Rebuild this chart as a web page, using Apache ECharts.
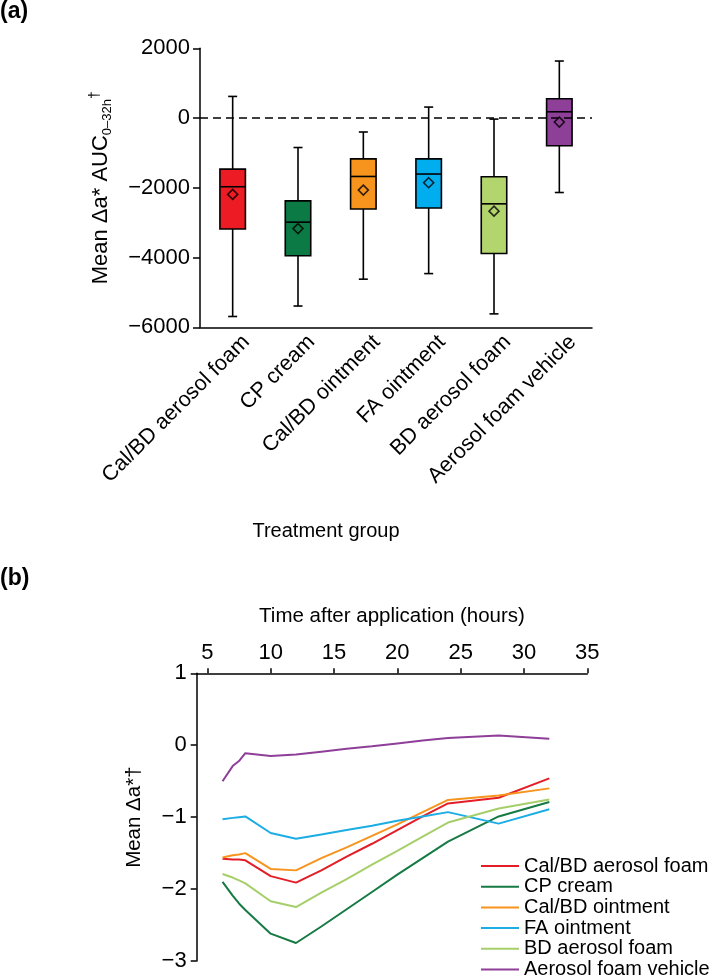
<!DOCTYPE html>
<html><head><meta charset="utf-8">
<script src="https://cdn.jsdelivr.net/npm/echarts@6/dist/echarts.min.js"></script>
<style>html,body{margin:0;padding:0;background:#fff}#c{width:709px;height:980px}</style>
</head><body><div id="c"></div>
<script>
// ---------- Panel (a): box plots ----------
const groups = ['Cal/BD aerosol foam','CP cream','Cal/BD ointment','FA ointment','BD aerosol foam','Aerosol foam vehicle'];
const boxColors = ['#ed1c24','#0b7a45','#f7941d','#00aeef','#b3d56e','#8e3f97'];
const whiskerLow  = [-5690,-5390,-4620,-4460,-5615,-2135];
const q1          = [-3180,-3950,-2610,-2580,-3885,-795];
const median      = [-1970,-2985,-1675,-1605,-2460,180];
const q3          = [-1465,-2375,-1170,-1170,-1685,555];
const whiskerHigh = [620,-845,-400,315,-30,1635];
const means       = [-2190,-3170,-2065,-1855,-2670,-115];

// ---------- Panel (b): time course ----------
const times = [6.2,7,7.5,8,10,12,14,16,18,20,22,24,28,32];
const calBdFoam   = [-1.58,-1.59,-1.59,-1.60,-1.82,-1.91,-1.74,-1.55,-1.37,-1.18,-0.99,-0.81,-0.73,-0.46];
const cpCream     = [-1.90,-2.09,-2.20,-2.29,-2.62,-2.75,-2.52,-2.28,-2.04,-1.80,-1.57,-1.34,-0.99,-0.79];
const calBdOint   = [-1.56,-1.53,-1.52,-1.50,-1.72,-1.74,-1.57,-1.42,-1.26,-1.10,-0.93,-0.76,-0.70,-0.60];
const faOint      = [-1.03,-1.01,-1.00,-0.99,-1.22,-1.30,-1.24,-1.18,-1.12,-1.05,-0.99,-0.93,-1.09,-0.89];
const bdFoam      = [-1.79,-1.84,-1.88,-1.92,-2.17,-2.25,-2.05,-1.86,-1.66,-1.47,-1.27,-1.075,-0.88,-0.755];
const foamVehicle = [-0.50,-0.29,-0.22,-0.11,-0.15,-0.13,-0.09,-0.05,-0.015,0.025,0.065,0.10,0.135,0.09];
const lineColors = ['#e31e26','#157a43','#f7941d','#1cade4','#a6cf6a','#8f3f98'];
const timeTicks = [5,10,15,20,25,30,35];

const FONT = 'Liberation Sans, Arial, Helvetica, sans-serif';
const minus = v => String(v).replace('-', '\u2212');

const chart = echarts.init(document.getElementById('c'), null, {renderer:'canvas'});

const boxData = groups.map((g,i)=>[i, whiskerLow[i], q1[i], median[i], q3[i], whiskerHigh[i]]);
const lineSets = [calBdFoam, cpCream, calBdOint, faOint, bdFoam, foamVehicle];

const option = {
  backgroundColor:'#fff',
  animation:false,
  textStyle:{fontFamily:FONT, color:'#000'},
  title:[
    {text:'(a)', left:0, top:0, padding:0, textStyle:{fontFamily:FONT, fontSize:23, fontWeight:'bold', color:'#000'}},
    {text:'(b)', left:0, top:567, padding:0, textStyle:{fontFamily:FONT, fontSize:23, fontWeight:'bold', color:'#000'}},
    {text:'Treatment group', left:326, textAlign:'center', top:521, padding:0, textStyle:{fontFamily:FONT, fontSize:20, fontWeight:'normal', color:'#000'}}
  ],
  grid:[
    {left:200, top:48.3, width:392, height:279},
    {left:196.7, top:673.3, width:390.6, height:287.7}
  ],
  xAxis:[
    {gridIndex:0, type:'category', data:groups, boundaryGap:true,
     axisLine:{onZero:false, lineStyle:{color:'#000', width:1.5}}, axisTick:{show:false},
     axisLabel:{rotate:45, interval:0, fontSize:21.5, color:'#000', fontFamily:FONT, margin:-2, verticalAlign:'top', padding:[8,0,0,0]},
     splitLine:{show:false}},
    {gridIndex:1, type:'value', position:'top', min:4.16, max:35,
     name:'Time after application (hours)', nameLocation:'middle', nameGap:46,
     nameTextStyle:{fontSize:20.5, color:'#000', fontFamily:FONT},
     axisLine:{onZero:false, lineStyle:{color:'#000', width:1.5}},
     axisTick:{show:true, length:5, lineStyle:{color:'#000', width:1.5}, customValues:timeTicks},
     axisLabel:{fontSize:22, color:'#000', fontFamily:FONT, margin:9, customValues:timeTicks},
     splitLine:{show:false}}
  ],
  yAxis:[
    {gridIndex:0, type:'value', min:-6000, max:2000, interval:2000,
     name:'Mean \u0394a* AUC{sub|0\u201332h}{sup|\u2020}', nameLocation:'middle', nameRotate:90, nameGap:84,
     nameTextStyle:{fontSize:22, color:'#000', fontFamily:FONT, lineHeight:30,
       rich:{sub:{fontSize:13, fontFamily:FONT, color:'#000', verticalAlign:'bottom', lineHeight:30, padding:[0,0,2,0]},
             sup:{fontSize:14, fontFamily:FONT, color:'#000', verticalAlign:'top', lineHeight:30, padding:[2,0,0,0]}}},
     axisLine:{show:true, onZero:false, lineStyle:{color:'#000', width:1.5}},
     axisTick:{show:true, length:7, lineStyle:{color:'#000', width:1.5}},
     axisLabel:{fontSize:22, color:'#000', fontFamily:FONT, margin:10, formatter:minus},
     splitLine:{show:false}},
    {gridIndex:1, type:'value', min:-3, max:1, interval:1,
     name:'Mean \u0394a*\u2020', nameLocation:'middle', nameRotate:90, nameGap:52,
     nameTextStyle:{fontSize:20.5, color:'#000', fontFamily:FONT},
     axisLine:{show:true, onZero:false, lineStyle:{color:'#000', width:1.5}},
     axisTick:{show:true, length:6, lineStyle:{color:'#000', width:1.5}},
     axisLabel:{fontSize:22, color:'#000', fontFamily:FONT, margin:10, formatter:minus},
     splitLine:{show:false}}
  ],
  legend:{
    data:groups, orient:'vertical', left:481, top:856, height:200, width:228, itemGap:0.7,
    itemWidth:38, itemHeight:2, icon:'rect', padding:0,
    textStyle:{fontSize:20, color:'#000', fontFamily:FONT, lineHeight:20}
  },
  series:[
    {type:'custom', xAxisIndex:0, yAxisIndex:0, data:boxData, encode:{x:0, y:[1,2,3,4,5]},
     renderItem:(params, api)=>{
       const i = api.value(0);
       const x = api.coord([i, 0])[0];
       const yLo = api.coord([i, api.value(1)])[1];
       const yQ1 = api.coord([i, api.value(2)])[1];
       const yMed = api.coord([i, api.value(3)])[1];
       const yQ3 = api.coord([i, api.value(4)])[1];
       const yHi = api.coord([i, api.value(5)])[1];
       const bw = api.size([1,0])[0]*0.39;
       const cap = 4.5;
       const ls = {stroke:'#000', lineWidth:1.6};
       return {type:'group', children:[
         {type:'line', shape:{x1:x,y1:yHi,x2:x,y2:yLo}, style:ls},
         {type:'line', shape:{x1:x-cap,y1:yHi,x2:x+cap,y2:yHi}, style:ls},
         {type:'line', shape:{x1:x-cap,y1:yLo,x2:x+cap,y2:yLo}, style:ls},
         {type:'rect', shape:{x:x-bw/2,y:yQ3,width:bw,height:yQ1-yQ3}, style:{fill:boxColors[i], stroke:'#000', lineWidth:1.6}},
         {type:'line', shape:{x1:x-bw/2,y1:yMed,x2:x+bw/2,y2:yMed}, style:ls}
       ]};
     },
     markLine:{silent:true, symbol:'none', label:{show:false},
       lineStyle:{color:'#000', type:[8,5], width:1.6}, data:[{yAxis:0}]},
     z:2},
    {type:'scatter', xAxisIndex:0, yAxisIndex:0, symbol:'diamond', symbolSize:10,
     data:means.map((m,i)=>({value:[i,m], itemStyle:{color:boxColors[i]}})),
     itemStyle:{borderColor:'#000', borderWidth:1.6}, z:5},
    ...groups.map((g,k)=>({
      type:'line', name:g, xAxisIndex:1, yAxisIndex:1, symbol:'none', showSymbol:false,
      data:times.map((t,j)=>[t, lineSets[k][j]]),
      lineStyle:{color:lineColors[k], width:2}, itemStyle:{color:lineColors[k]}
    }))
  ]
};
chart.setOption(option);
</script></body></html>
